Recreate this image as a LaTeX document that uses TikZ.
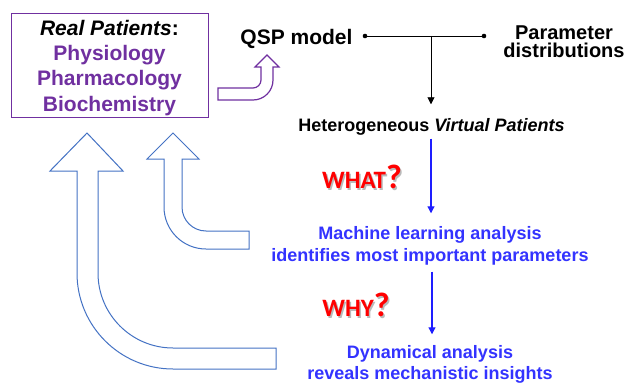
\documentclass[tikz,border=0pt]{standalone}
\usepackage{fontspec}
\setmainfont{Liberation Sans}
\newfontfamily\carlito{Carlito}
\usetikzlibrary{arrows.meta}
\definecolor{purp}{RGB}{112,48,160}
\definecolor{arrblue}{RGB}{68,114,196}
\definecolor{txtblue}{RGB}{51,51,255}
\definecolor{lineblue}{RGB}{30,30,255}
\definecolor{qred}{RGB}{255,0,0}
\tikzset{
  lbl/.style={align=center, inner sep=0pt, text depth=0pt},
  bigarrow/.style={draw=arrblue, line width=1pt, fill=white, line join=miter},
  purparrow/.style={draw=purp, line width=1.2pt, fill=white, line join=miter},
  blueconn/.style={draw=lineblue, line width=1.2pt, -{Triangle[length=7pt,width=7pt]}},
  blackconn/.style={draw=black, line width=0.9pt},
  qmark/.style={inner sep=0pt, font=\carlito\bfseries}
}
\newcommand{\whattext}[1]{\fontsize{25}{25}\selectfont #1\fontsize{34}{34}\selectfont ?}
\begin{document}
\begin{tikzpicture}[x=1pt,y=1pt]
\useasboundingbox (0,0) rectangle (633,384);
\fill[white] (0,0) rectangle (633,384);

% Real patients box
\node[lbl, font=\bfseries\fontsize{21}{25.3}\selectfont, draw=purp, line width=1pt, minimum width=197pt, minimum height=103pt, inner sep=0pt]
  (real) at (109.5,318.5) {\textit{Real Patients}:\\
  \textcolor{purp}{Physiology}\\ \textcolor{purp}{Pharmacology}\\ \textcolor{purp}{Biochemistry}};

% purple bent arrow
\draw[purparrow] (267,329) -- (279,317) -- (273,317) -- (273,304) arc (0:-90:20)
  -- (218,284) -- (218,296) -- (253,296) arc (-90:0:8) -- (261,317) -- (255,317) -- cycle;

% big blue bent arrow
\draw[bigarrow] (87,251) -- (123,213) -- (98,213) -- (98,111) arc (180:270:75)
  -- (276,36) -- (276,15) -- (173,15) arc (270:180:96) -- (77,213) -- (50,213) -- cycle;

% small blue bent arrow
\draw[bigarrow] (173,251) -- (199,225) -- (182,225) -- (182,177) arc (180:270:24)
  -- (249,153) -- (249,135) -- (206,135) arc (270:180:42) -- (164,225) -- (147,225) -- cycle;

% top text
\node[lbl, font=\bfseries\fontsize{21}{21}\selectfont] (qsp) at (296.5,347) {QSP model};
\node[lbl, font=\bfseries\fontsize{20}{18.5}\selectfont] (param) at (564,342.5) {Parameter\\distributions};
\node[lbl, font=\bfseries\fontsize{18}{18}\selectfont] (hetero) at (431.5,259) {Heterogeneous \textit{Virtual Patients}};

\coordinate (dl) at (365,348);
\coordinate (dr) at (484,348);
\coordinate (junc) at (431,348);
\draw[blackconn] (dl) -- (dr);
\fill (dl) circle (2.3pt);
\fill (dr) circle (2.3pt);
\draw[blackconn, -{Triangle[length=7pt,width=7pt]}] (junc) -- ([xshift=-0.5pt,yshift=14pt]hetero.north);

% blue texts
\node[lbl, text=txtblue, font=\bfseries\fontsize{18}{22}\selectfont] (ml) at (430,140) {Machine learning analysis\\identifies most important parameters};
\node[lbl, text=txtblue, font=\bfseries\fontsize{18}{21}\selectfont] (dyna) at (430,21.5) {Dynamical analysis\\reveals mechanistic insights};

\draw[blueconn] ([xshift=-0.5pt,yshift=-7pt]hetero.south) -- ([xshift=1pt,yshift=13pt]ml.north);
\draw[blueconn] ([xshift=2pt,yshift=-10pt]ml.south) -- ([xshift=2pt,yshift=11pt]dyna.north);

% WHAT? WHY?
\node[qmark, text=black!45, opacity=0.6] at (363.5,205.5) {\whattext{WHAT}};
\node[qmark, text=qred] (what) at (362,207) {\whattext{WHAT}};
\node[qmark, text=black!45, opacity=0.6] at (357.5,77.5) {\whattext{WHY}};
\node[qmark, text=qred] (why) at (356,79) {\whattext{WHY}};
\end{tikzpicture}
\end{document}
